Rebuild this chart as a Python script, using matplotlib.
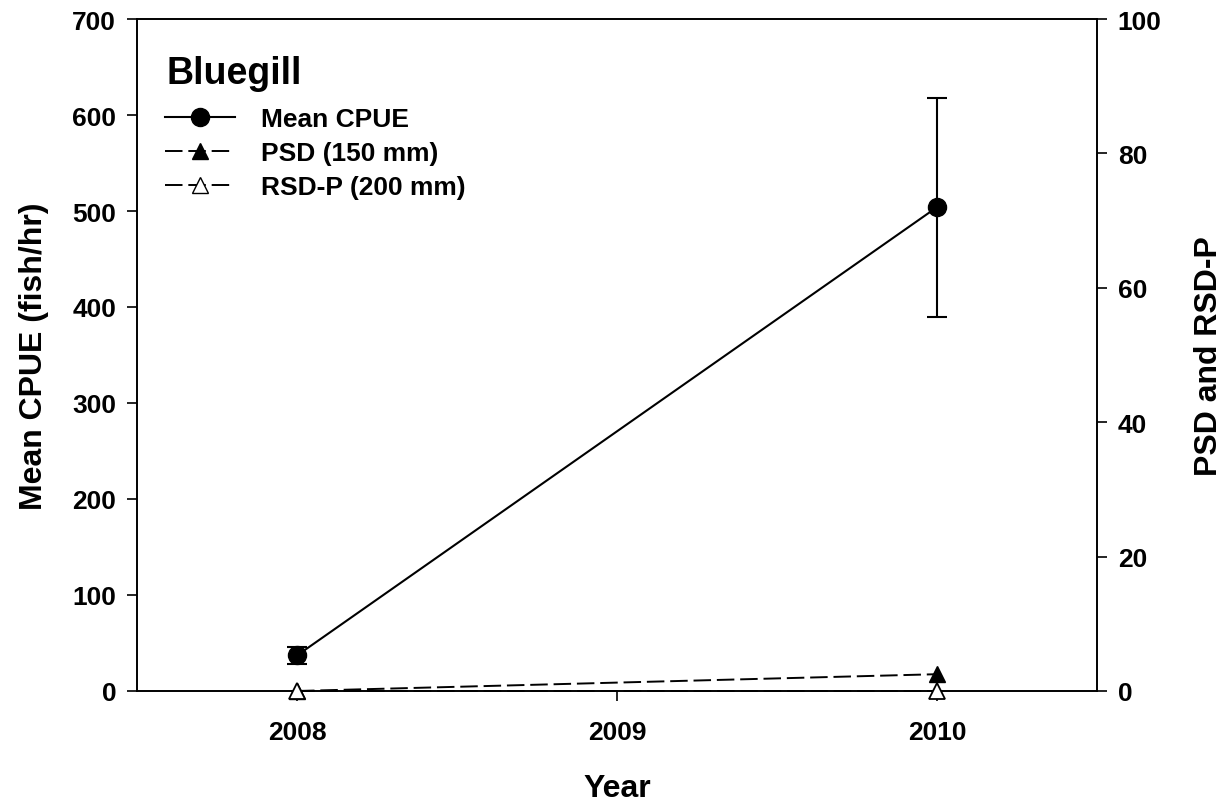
import matplotlib
matplotlib.use("Agg")
import matplotlib.pyplot as plt
from matplotlib.lines import Line2D

plt.rcParams['font.family'] = ['Liberation Sans', 'DejaVu Sans']
plt.rcParams['font.weight'] = 'bold'

years = [2008, 2010]
cpue = [37, 504]
cpue_err = [9, 114]
psd = [0, 2.5]
rsdp = [0, 0]
xticks = [2008, 2009, 2010]

fig = plt.figure(figsize=(12.24, 8.03), dpi=100)
ax = fig.add_axes([137/1224, 1-692/803, (1097-137)/1224, (692-20)/803])
ax2 = ax.twinx()

dash = (0, (9, 3))
ax.errorbar(years, cpue, yerr=cpue_err, color='black', lw=1.5, marker='o', ms=13,
            capsize=7.5, elinewidth=1.5, capthick=1.5, zorder=3, clip_on=False)
ax2.plot(years, psd, color='black', lw=1.4, ls=dash, marker='^', ms=12,
         mfc='black', mec='black', zorder=3, clip_on=False)
ax2.plot(years, rsdp, color='black', lw=1.4, ls=dash, marker='^', ms=12,
         mfc='white', mec='black', mew=1.3, zorder=4, clip_on=False)

ax.set_xlim(2007.5, 2010.5)
ax.set_ylim(0, 700)
ax2.set_ylim(0, 100)
ax.set_xticks(xticks)
ax.set_xticklabels([str(x) for x in xticks])
ax.set_yticks(range(0, 701, 100))
ax2.set_yticks(range(0, 101, 20))

for a in (ax, ax2):
    for s in a.spines.values():
        s.set_linewidth(1.2)
    a.tick_params(direction='out', length=7, width=1.2, labelsize=19)
ax.tick_params(axis='x', pad=14)
ax.tick_params(axis='y', pad=8)
ax2.tick_params(axis='y', pad=8)

ax.set_xlabel('Year', fontsize=23, fontweight='bold', labelpad=21)
ax.set_ylabel('Mean CPUE (fish/hr)', fontsize=23, fontweight='bold', labelpad=17)
ax2.set_ylabel('PSD and RSD-P', fontsize=23, fontweight='bold', labelpad=23)

ax.text(167/1224, 1-74/803, 'Bluegill', transform=fig.transFigure, fontsize=27,
        fontweight='bold', va='center', ha='left')

handles = [
    Line2D([], [], color='black', lw=1.5, marker='o', ms=13),
    Line2D([], [], color='black', lw=1.4, ls=dash, marker='^', ms=12, mfc='black'),
    Line2D([], [], color='black', lw=1.4, ls=dash, marker='^', ms=12, mfc='white'),
]
labels = ['Mean CPUE', 'PSD (150 mm)', 'RSD-P (200 mm)']
leg = ax2.legend(handles, labels, loc='upper left', bbox_to_anchor=(165/1224, 1-108/803),
                 bbox_transform=fig.transFigure, frameon=False, fontsize=19,
                 handlelength=2.65, handletextpad=1.0, labelspacing=0.38, borderaxespad=0,
                 borderpad=0)
for t in leg.get_texts():
    t.set_fontweight('bold')

fig.savefig('out.png', dpi=100)
